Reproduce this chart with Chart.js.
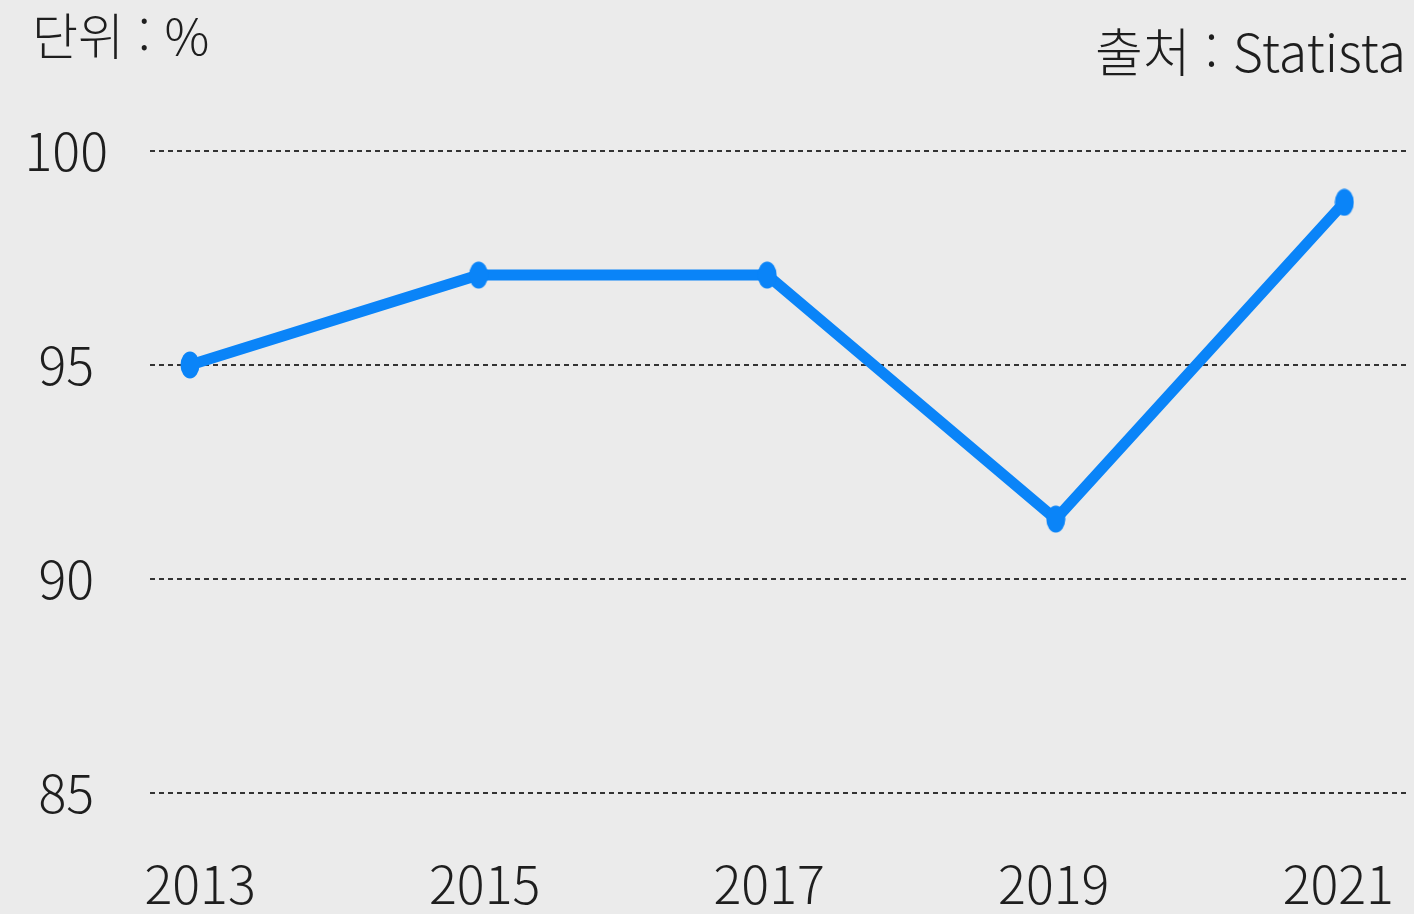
<!DOCTYPE html>
<html lang="ko">
<head>
<meta charset="utf-8">
<style>
	html, body {
		margin: 0;
		padding: 0;
		background: #ebebeb;
	}
	.wrap {
		position: relative;
		width: 1414px;
		height: 914px;
		font-family: "Noto Sans CJK KR", "Noto Sans", sans-serif;
		font-weight: 300;
		color: #1e1e1e;
	}
	.unit {
		position: absolute;
		left: 32px;
		top: -2px;
		font-size: 50px;
		line-height: 70px;
	}
	.source {
		position: absolute;
		right: 8px;
		top: 14px;
		font-size: 52px;
		line-height: 72px;
	}
	#graf {
		position: absolute;
		left: 0;
		top: 0;
	}
</style>
</head>
<body>
<div class="wrap">
	<canvas id="graf" width="1414" height="914"></canvas>
	<div class="unit">단위 : %</div>
	<div class="source">출처 : Statista</div>
</div>
<script src="https://cdn.jsdelivr.net/npm/chart.js"></script>
<script>
	const years = [2013, 2015, 2017, 2019, 2021];
	const rates = [95.0, 97.1, 97.1, 91.4, 98.8];
	const yTicks = [85, 90, 95, 100];

	const blue = "#0a84f8";
	const font = { family: "'Noto Sans CJK KR', 'Noto Sans', sans-serif", size: 52, weight: 300 };

	// marker is a slightly tall oval, not a circle
	const dot = document.createElement("canvas");
	dot.width = 20;
	dot.height = 28;
	const dctx = dot.getContext("2d");
	dctx.fillStyle = blue;
	dctx.beginPath();
	dctx.ellipse(10, 14, 9.5, 13.5, 0, 0, Math.PI * 2);
	dctx.fill();

	var graf = new Chart(document.getElementById("graf"), {
		type: "line",
		data: {
			datasets: [
				{
					data: years.map((y, i) => ({ x: y, y: rates[i] })),
					xAxisID: "x",
					borderColor: blue,
					backgroundColor: blue,
					borderWidth: 11,
					tension: 0,
					pointStyle: dot,
					pointRadius: 10,
					pointBorderWidth: 0,
				},
			],
		},
		options: {
			responsive: false,
			animation: false,
			layout: {
				autoPadding: false,
				padding: { top: 151, right: 6, bottom: 0, left: 0 },
			},
			plugins: {
				legend: { display: false },
				tooltip: { enabled: false },
			},
			scales: {
				// data axis: hidden, sets where the points fall
				x: {
					type: "linear",
					display: false,
					min: 2012.723,
					max: 2021.441,
				},
				// label axis: year labels along the bottom
				xt: {
					type: "linear",
					position: "bottom",
					min: 2012.648,
					max: 2021.49,
					grid: { display: false },
					border: { display: false },
					afterBuildTicks: (axis) => {
						axis.ticks = years.map((v) => ({ value: v }));
					},
					afterFit: (axis) => {
						axis.height = 121;
						axis.paddingLeft = 0;
						axis.paddingRight = 0;
					},
					ticks: {
						color: "#1e1e1e",
						font: font,
						padding: 52,
						maxRotation: 0,
						autoSkip: false,
						callback: (v) => String(v),
					},
				},
				y: {
					min: 85,
					max: 100,
					afterBuildTicks: (axis) => {
						axis.ticks = yTicks.map((v) => ({ value: v }));
					},
					afterFit: (axis) => {
						axis.width = 150;
					},
					grid: {
						color: "#333",
						lineWidth: 2,
						drawTicks: false,
					},
					border: { display: false, dash: [5, 4] },
					ticks: {
						color: "#1e1e1e",
						font: font,
						padding: 42,
						crossAlign: "center",
					},
				},
			},
		},
	});
</script>
</body>
</html>
